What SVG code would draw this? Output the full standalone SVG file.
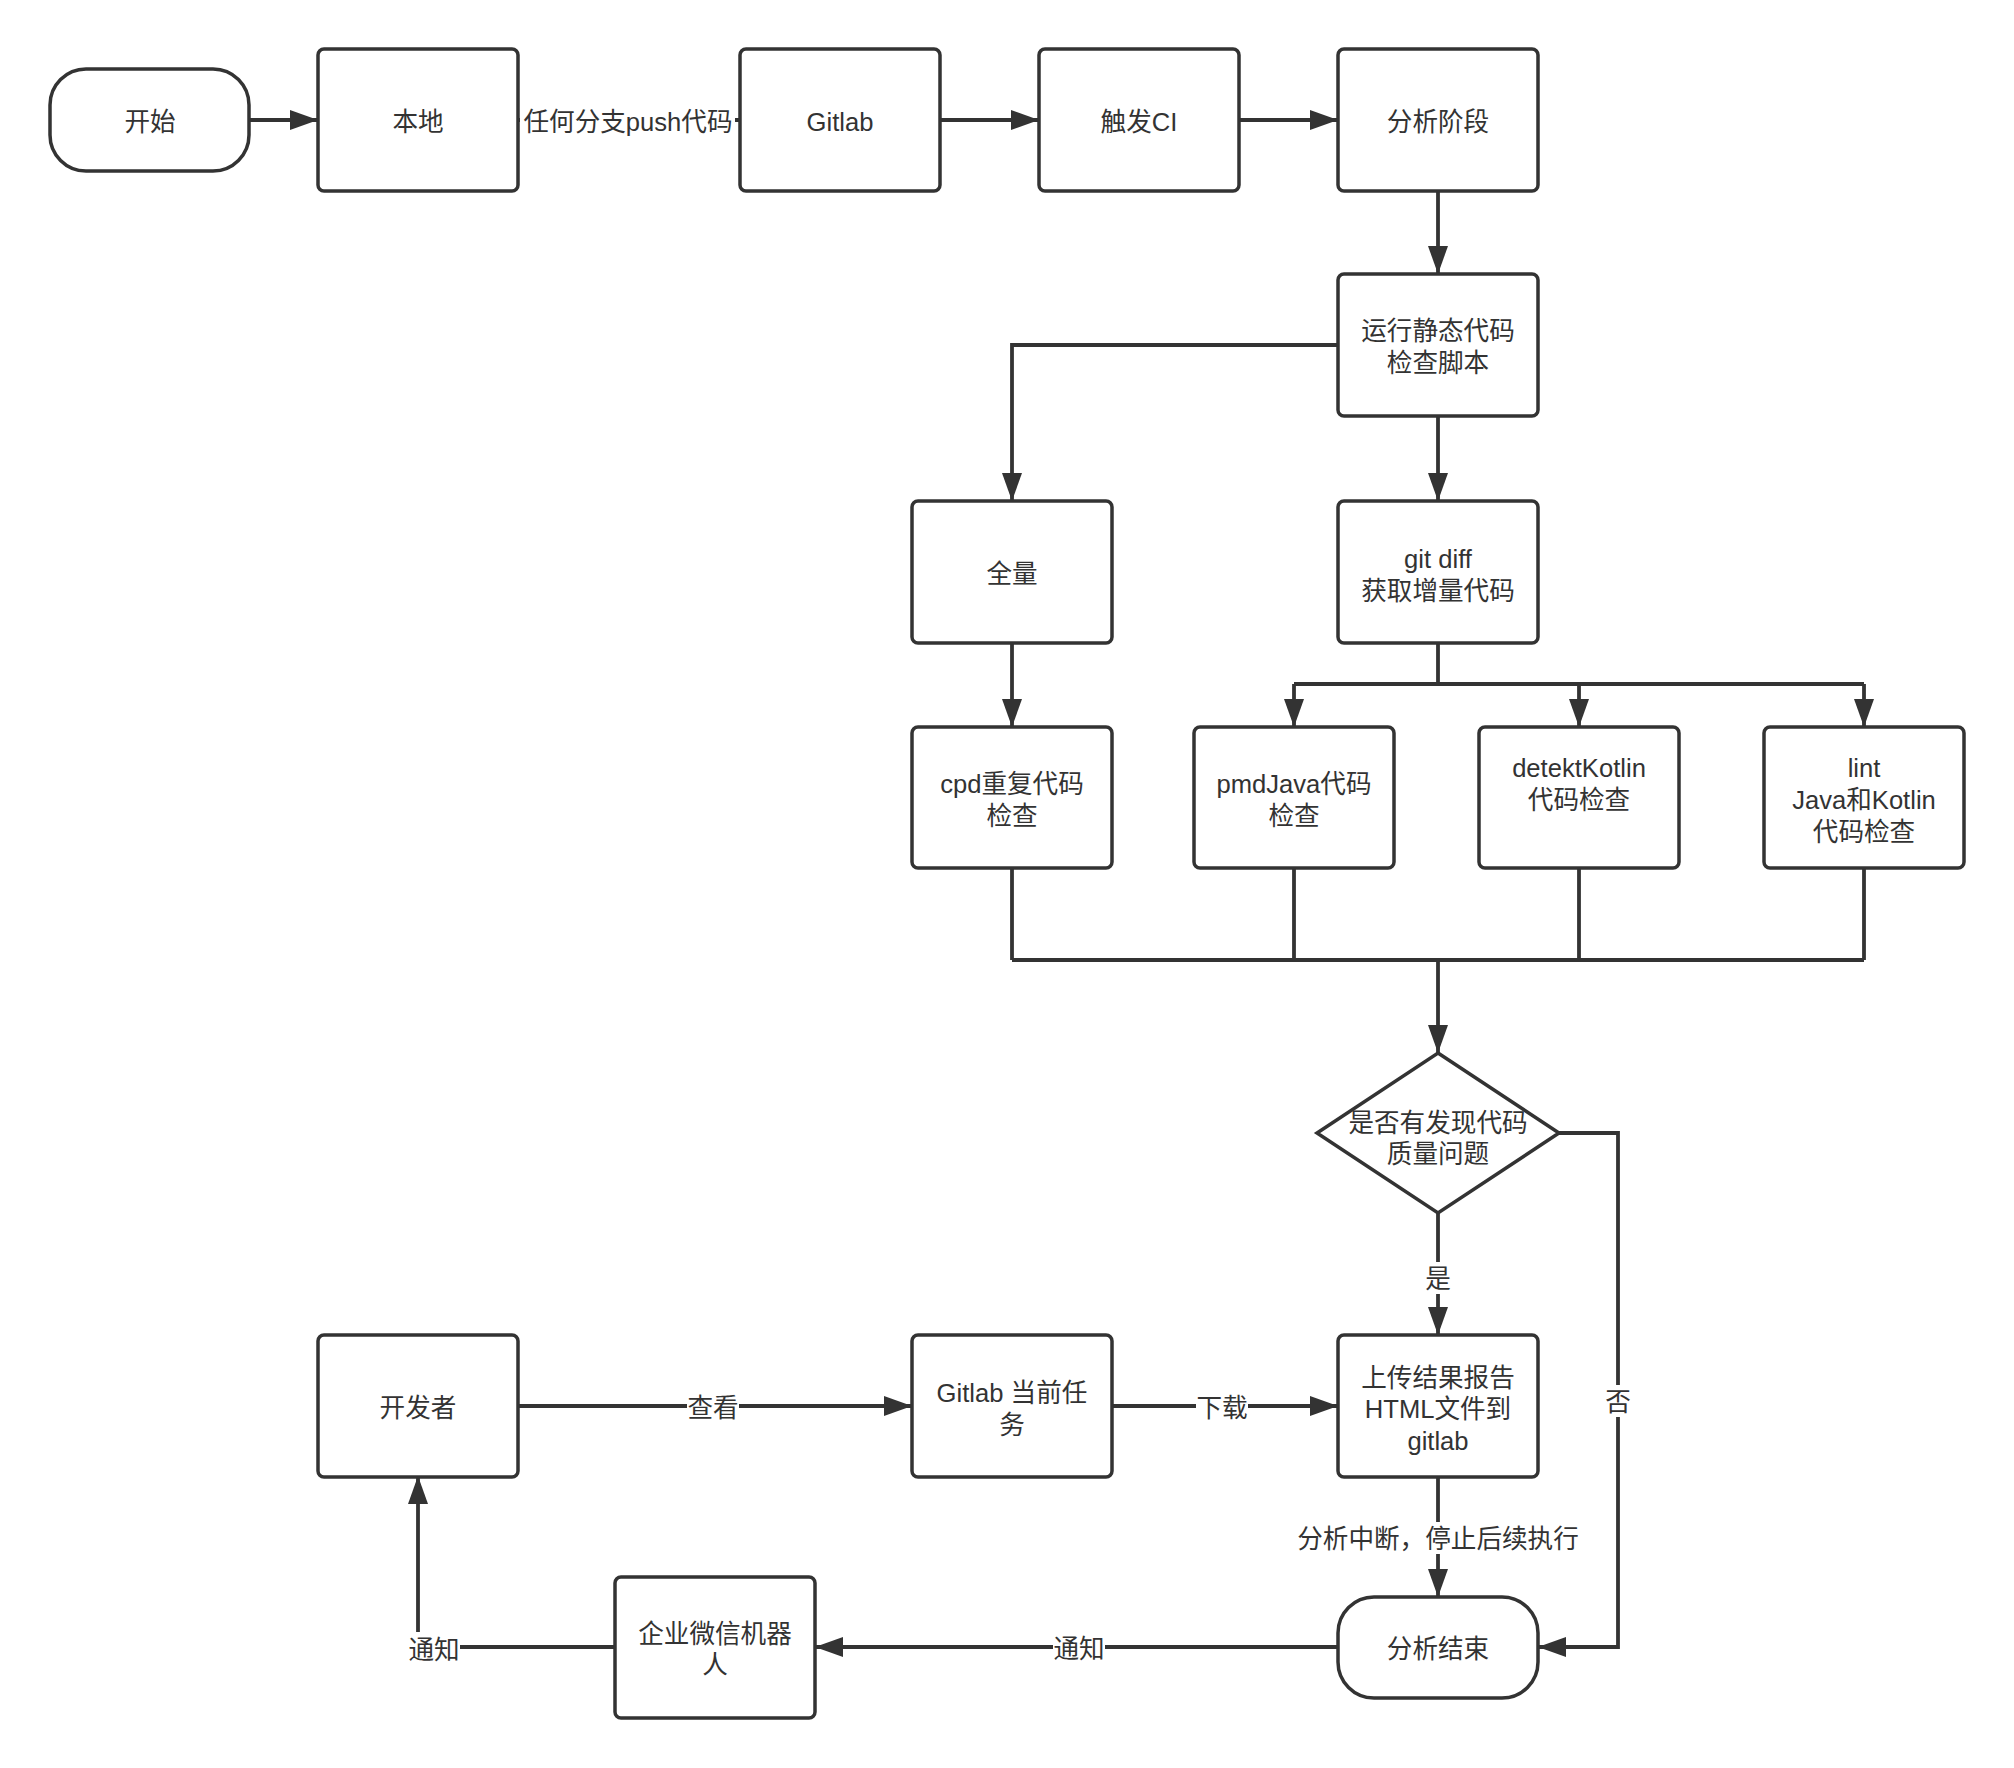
<svg xmlns="http://www.w3.org/2000/svg" width="2014" height="1768" viewBox="0 0 2014 1768">
<style>
.n{fill:#fff;stroke:#333;stroke-width:3.5}
.c{fill:none;stroke:#333;stroke-width:3.8;stroke-linejoin:miter}
.a{marker-end:url(#arr)}
text{font-family:"Liberation Sans","Noto Sans CJK SC",sans-serif;font-size:25.6px;fill:#333;text-anchor:middle;dominant-baseline:central;transform:translate(0px,2px)}
.bg{fill:#fff;stroke:none}
</style>
<defs>
<marker id="arr" markerUnits="userSpaceOnUse" markerWidth="30" markerHeight="22" refX="28" refY="10" orient="auto">
<path d="M0,0 L28,10 L0,20 Z" fill="#333"/>
</marker>
</defs>
<rect width="2014" height="1768" fill="#fff"/>
<g id="connectors">
<path class="c a" d="M249,120 H318"/>
<path class="c a" d="M518,120 H740"/>
<path class="c a" d="M940,120 H1039"/>
<path class="c a" d="M1239,120 H1338"/>
<path class="c a" d="M1438,191 V274"/>
<path class="c a" d="M1338,345 H1012 V501"/>
<path class="c a" d="M1438,416 V501"/>
<path class="c a" d="M1012,643 V727"/>
<path class="c" d="M1438,643 V684 M1294,684 H1864"/>
<path class="c a" d="M1294,684 V727"/>
<path class="c a" d="M1579,684 V727"/>
<path class="c a" d="M1864,684 V727"/>
<path class="c" d="M1012,868 V960 M1294,868 V960 M1579,868 V960 M1864,868 V960 M1012,960 H1864"/>
<path class="c a" d="M1438,960 V1053"/>
<path class="c a" d="M1438,1213 V1335"/>
<path class="c a" d="M1559,1133 H1618 V1647 H1538"/>
<path class="c a" d="M1438,1477 V1597"/>
<path class="c a" d="M1338,1647 H815"/>
<path class="c a" d="M615,1647 H418 V1476"/>
<path class="c a" d="M518,1406 H912"/>
<path class="c a" d="M1112,1406 H1338"/>
<g id="edge-labels">
<rect class="bg" x="520" y="104" width="215" height="34"/>
<text x="628" y="120">任何分支push代码</text>
<rect class="bg" x="1424" y="1262" width="28" height="32"/>
<text x="1438" y="1277">是</text>
<rect class="bg" x="1604" y="1385" width="28" height="32"/>
<text x="1618" y="1400">否</text>
<rect class="bg" x="1296" y="1522" width="284" height="32"/>
<text x="1438" y="1537">分析中断，停止后续执行</text>
<rect class="bg" x="1053" y="1632" width="52" height="32"/>
<text x="1079" y="1647">通知</text>
<rect class="bg" x="408" y="1632" width="52" height="32"/>
<text x="434" y="1648">通知</text>
<rect class="bg" x="687" y="1391" width="52" height="32"/>
<text x="713" y="1406">查看</text>
<rect class="bg" x="1196" y="1391" width="52" height="32"/>
<text x="1222" y="1406">下载</text>
</g>
</g>
<g id="start"><rect class="n" x="50" y="69" width="199" height="102" rx="36" ry="36"/><text x="150" y="120">开始</text></g>
<g id="local"><rect class="n" x="318" y="49" width="200" height="142" rx="6"/><text x="418" y="120">本地</text></g>
<g id="gitlab"><rect class="n" x="740" y="49" width="200" height="142" rx="6"/><text x="840" y="120">Gitlab</text></g>
<g id="ci"><rect class="n" x="1039" y="49" width="200" height="142" rx="6"/><text x="1139" y="120">触发CI</text></g>
<g id="analyze"><rect class="n" x="1338" y="49" width="200" height="142" rx="6"/><text x="1438" y="120">分析阶段</text></g>
<g id="run"><rect class="n" x="1338" y="274" width="200" height="142" rx="6"/><text x="1438" y="329">运行静态代码</text><text x="1438" y="361">检查脚本</text></g>
<g id="full"><rect class="n" x="912" y="501" width="200" height="142" rx="6"/><text x="1012" y="572">全量</text></g>
<g id="gitdiff"><rect class="n" x="1338" y="501" width="200" height="142" rx="6"/><text x="1438" y="557">git diff</text><text x="1438" y="589">获取增量代码</text></g>
<g id="cpd"><rect class="n" x="912" y="727" width="200" height="141" rx="6"/><text x="1012" y="782">cpd重复代码</text><text x="1012" y="814">检查</text></g>
<g id="pmd"><rect class="n" x="1194" y="727" width="200" height="141" rx="6"/><text x="1294" y="782">pmdJava代码</text><text x="1294" y="814">检查</text></g>
<g id="detekt"><rect class="n" x="1479" y="727" width="200" height="141" rx="6"/><text x="1579" y="766">detektKotlin</text><text x="1579" y="798">代码检查</text></g>
<g id="lint"><rect class="n" x="1764" y="727" width="200" height="141" rx="6"/><text x="1864" y="766">lint</text><text x="1864" y="798">Java和Kotlin</text><text x="1864" y="830">代码检查</text></g>
<g id="decision"><path class="n" d="M1438,1053 L1559,1133 L1438,1213 L1317,1133 Z"/><text x="1438" y="1121">是否有发现代码</text><text x="1438" y="1152">质量问题</text></g>
<g id="upload"><rect class="n" x="1338" y="1335" width="200" height="142" rx="6"/><text x="1438" y="1376">上传结果报告</text><text x="1438" y="1407">HTML文件到</text><text x="1438" y="1439">gitlab</text></g>
<g id="end"><rect class="n" x="1338" y="1597" width="200" height="101" rx="36" ry="36"/><text x="1438" y="1647">分析结束</text></g>
<g id="developer"><rect class="n" x="318" y="1335" width="200" height="142" rx="6"/><text x="418" y="1406">开发者</text></g>
<g id="gitlab-task"><rect class="n" x="912" y="1335" width="200" height="142" rx="6"/><text x="1012" y="1391">Gitlab 当前任</text><text x="1012" y="1423">务</text></g>
<g id="wechat-bot"><rect class="n" x="615" y="1577" width="200" height="141" rx="6"/><text x="715" y="1632">企业微信机器</text><text x="715" y="1663">人</text></g>
</svg>
